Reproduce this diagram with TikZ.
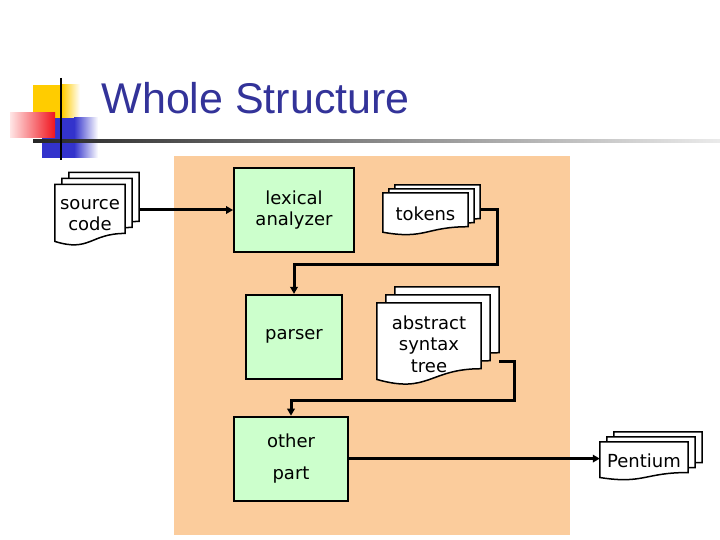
\documentclass[tikz,border=0pt]{standalone}
\usepackage{fontspec}
\setmainfont{DejaVu Sans}
\newfontfamily\titlefont{Liberation Sans}
\usetikzlibrary{arrows.meta,positioning,calc}

\definecolor{titleblue}{RGB}{51,51,153}
\definecolor{peach}{RGB}{251,204,156}
\definecolor{mint}{RGB}{204,255,204}
\definecolor{logoyellow}{RGB}{255,204,0}
\definecolor{logored}{RGB}{240,20,30}
\definecolor{logoblue}{RGB}{51,51,204}

\pgfdeclarelayer{background}
\pgfdeclarelayer{sheets}
\pgfsetlayers{background,sheets,main}

% outline of one document page around node #1 (wavy bottom edge)
\newcommand\pagesheet[1]{%
  \draw[sheet] (#1.north west) -- (#1.north east)
    -- ($(#1.north east)!0.8!(#1.south east)$)
    .. controls ($(#1.north)!0.8!(#1.south)$) and ($(#1.north)!1.11!(#1.south)$)
    .. ($(#1.north west)!0.93!(#1.south west)$) -- cycle;}

% stack of three pages: name, position, width, height, offset, text
\newcommand\pagestack[6]{%
  \node[page, minimum width=#3, minimum height=#4] (#1) at #2 {#6};
  \node[page, minimum width=#3, minimum height=#4] (#1m) at ([shift={#5}]#1.center) {};
  \node[page, minimum width=#3, minimum height=#4] (#1b) at ([shift={#5}]#1m.center) {};
  \begin{pgfonlayer}{sheets}
    \pagesheet{#1b}\pagesheet{#1m}\pagesheet{#1}
  \end{pgfonlayer}}

\begin{document}
\begin{tikzpicture}[x=1pt, y=-1pt,
  font=\fontsize{18}{21.5}\selectfont,
  phase/.style={draw, line width=1.8pt, fill=mint, align=center, minimum height=84},
  sheet/.style={draw, fill=white, line width=1.5pt},
  page/.style={inner sep=0pt, align=center},
  flow/.style={line width=3pt, -{Triangle[length=7pt, width=7.5pt]}}]

  \useasboundingbox (0,0) rectangle (720,540);

  % corner logo
  \fill[logoyellow] (33,85) rectangle (62,118);
  \shade[left color=logoyellow, right color=white] (62,85) rectangle (80,118);
  \fill[logoblue] (42,118) rectangle (74,158);
  \shade[left color=logoblue, right color=white] (74,118) rectangle (98,158);
  \shade[left color=red!10, right color=logored] (10,113) rectangle (55,138);
  \shade[left color=black!85, right color=black!8] (33,140) rectangle (720,142.5);
  \draw[line width=2pt] (61,78) -- (61,160);

  \node[anchor=base west, text=titleblue, font=\titlefont\fontsize{43}{50}\selectfont]
    (title) at (98,114) {Whole Structure};

  \begin{pgfonlayer}{background}
    \fill[peach] (174,156) rectangle (570,535);
  \end{pgfonlayer}

  % compiler phases
  \node[phase, minimum width=120] (lex) at (294,210) {lexical\\analyzer};
  \node[phase, minimum width=96, below=41pt of lex] (parser) {parser};
  \node[phase, minimum width=114, below=36pt of parser, xshift=-3pt] (other) {other\\[10.5pt]part};

  % documents
  \pagestack{src}{(90,215)}{70}{61}{(7,-6)}{source\\code}
  \pagestack{tok}{(425.5,214)}{85}{42}{(6,-4)}{tokens}
  \pagestack{ast}{(429,344)}{104}{82}{(9,-8)}{abstract\\syntax\\tree}
  \pagestack{pent}{(644,461)}{88}{38}{(7,-5)}{Pentium}

  \coordinate (turn1) at (497,264);
  \coordinate (turn2) at (514,400);

  \draw[flow] (srcb.east |- lex.west) -- (lex.west);
  \draw[flow] (tokb.east |- lex.east) -| (turn1) -| (parser.north);
  \draw[flow] ([yshift=-33pt]astb.east) -| (turn2) -| (other.north);
  \draw[flow] (other.east) -- (other.east -| pent.west);
\end{tikzpicture}
\end{document}
